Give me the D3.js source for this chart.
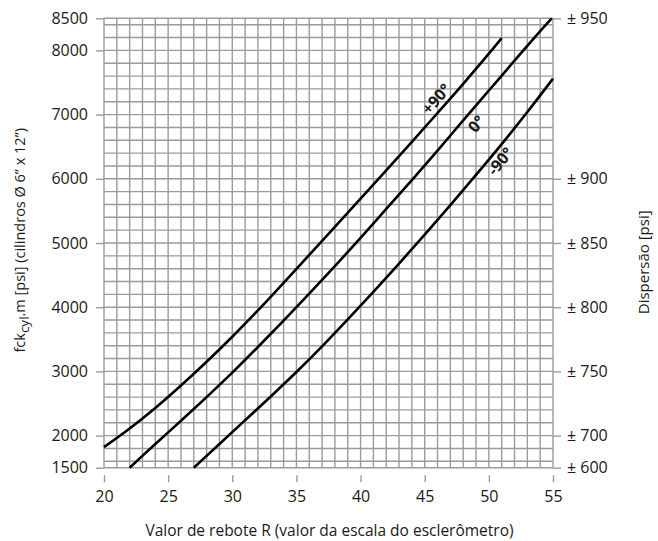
<!DOCTYPE html>
<html>
<head>
<meta charset="utf-8">
<script src="https://cdn.jsdelivr.net/npm/d3@7"></script>
<style>
  body { margin: 0; background: #fff; }
  svg { font-family: "Open Sans", sans-serif; }
</style>
</head>
<body>
<div id="chart"></div>
<script>
// curve data: rebound value R -> fck (psi)
var rPlus90 = [20, 22, 24, 26, 28, 30, 32, 34, 36, 38, 40, 42, 44, 46, 48, 50, 51];
var fckPlus90 = [1820, 2110, 2430, 2780, 3150, 3540, 3950, 4380, 4815, 5250, 5690, 6130, 6575, 7025, 7480, 7950, 8190];

var rZero = [22, 24, 26, 28, 30, 32, 34, 36, 38, 40, 42, 44, 46, 48, 50, 52, 54, 54.9];
var fckZero = [1500, 1870, 2230, 2600, 2980, 3380, 3790, 4210, 4640, 5080, 5530, 5980, 6440, 6910, 7375, 7840, 8300, 8500];

var rMinus90 = [27, 29, 31, 33, 35, 37, 39, 41, 43, 45, 47, 49, 51, 53, 55];
var fckMinus90 = [1500, 1870, 2240, 2610, 2990, 3390, 3810, 4240, 4680, 5130, 5590, 6060, 6540, 7040, 7560];

var seriesNames = ["+90°", "0°", "-90°"];

// axis ticks
var xTicks = [20, 25, 30, 35, 40, 45, 50, 55];
var yTicks = [1500, 2000, 3000, 4000, 5000, 6000, 7000, 8000, 8500];
var dispTicks = [1500, 2000, 3000, 4000, 5000, 6000, 8500];
var dispLabels = ["± 600", "± 700", "± 750", "± 800", "± 850", "± 900", "± 950"];

// set the dimensions and margins of the graph
var margin = {top: 18.3, right: 105, bottom: 73.3, left: 104},
    width = 658 - margin.left - margin.right,
    height = 541 - margin.top - margin.bottom;

var svg = d3.select("#chart")
  .append("svg")
    .attr("width", 658)
    .attr("height", 541)
  .append("g")
    .attr("transform", "translate(" + margin.left + "," + margin.top + ")");

var x = d3.scaleLinear().domain([20, 55]).range([0, width]);
var y = d3.scaleLinear().domain([1500, 8500]).range([height, 0]);

// grid: every 1 R unit, every 200 psi
var gridX = d3.range(20, 56, 1);
var gridY = [1500].concat(d3.range(1600, 8500, 200)).concat([8500]);

var grid = svg.append("g").attr("stroke", "#9b9b9b").attr("stroke-width", 1.4);
grid.selectAll("line.v").data(gridX).enter().append("line")
    .attr("class", "v")
    .attr("x1", d => x(d)).attr("x2", d => x(d))
    .attr("y1", 0).attr("y2", height);
grid.selectAll("line.h").data(gridY).enter().append("line")
    .attr("class", "h")
    .attr("x1", 0).attr("x2", width)
    .attr("y1", d => y(d)).attr("y2", d => y(d));

var tickFont = "16px";

// left axis
var yAxis = svg.append("g")
    .call(d3.axisLeft(y).tickValues(yTicks).tickSize(8).tickPadding(8).tickFormat(d3.format("d")));
yAxis.select(".domain").remove();
yAxis.selectAll("line").attr("stroke", "#9b9b9b").attr("stroke-width", 1.4);
yAxis.selectAll("text").attr("font-size", tickFont).attr("fill", "#1a1a1a").attr("font-family", "Open Sans");

// right axis (dispersion)
var rAxis = svg.append("g")
    .attr("transform", "translate(" + width + ",0)")
    .call(d3.axisRight(y).tickValues(dispTicks).tickSize(8).tickPadding(6)
      .tickFormat(function(d, i) { return dispLabels[i]; }));
rAxis.select(".domain").remove();
rAxis.selectAll("line").attr("stroke", "#9b9b9b").attr("stroke-width", 1.4);
rAxis.selectAll("text").attr("font-size", tickFont).attr("fill", "#1a1a1a").attr("font-family", "Open Sans");

// bottom axis, ticks detached from the grid
var xAxis = svg.append("g")
    .attr("transform", "translate(0," + (height + 7.5) + ")")
    .call(d3.axisBottom(x).tickValues(xTicks).tickSize(7).tickPadding(8));
xAxis.select(".domain").remove();
xAxis.selectAll("line").attr("stroke", "#9b9b9b").attr("stroke-width", 1.4);
xAxis.selectAll("text").attr("font-size", tickFont).attr("fill", "#1a1a1a").attr("font-family", "Open Sans");

// curves
var series = [
  {name: seriesNames[0], r: rPlus90, v: fckPlus90},
  {name: seriesNames[1], r: rZero, v: fckZero},
  {name: seriesNames[2], r: rMinus90, v: fckMinus90}
];

var line = d3.line()
    .x(d => x(d[0]))
    .y(d => y(d[1]))
    .curve(d3.curveCatmullRom.alpha(0.5));

svg.append("g").selectAll("path")
  .data(series)
  .enter().append("path")
    .attr("d", d => line(d.r.map((r, i) => [r, d.v[i]])))
    .attr("fill", "none")
    .attr("stroke", "#000")
    .attr("stroke-width", 2.6);

// curve labels, rotated along the curve; negative offset = above-left
var labelAt = [46.5, 48.3, 50.3];
var labelOff = [-10.5, 12, 9.5];

series.forEach(function(s, i) {
  var r0 = labelAt[i];
  var f = d3.scaleLinear().domain(s.r).range(s.v);
  var px = x(r0), py = y(f(r0));
  var dx = x(r0 + 0.5) - x(r0 - 0.5), dy = y(f(r0 + 0.5)) - y(f(r0 - 0.5));
  var len = Math.sqrt(dx * dx + dy * dy);
  var nx = -dy / len, ny = dx / len; // normal pointing down-right
  var ang = Math.atan2(dy, dx) * 180 / Math.PI;
  var cx = px + nx * labelOff[i], cy = py + ny * labelOff[i];
  svg.append("text")
    .attr("transform", "translate(" + cx + "," + cy + ") rotate(" + ang + ")")
    .attr("text-anchor", "middle")
    .attr("dominant-baseline", "central")
    .attr("font-size", "16px")
    .attr("font-weight", "bold")
    .attr("fill", "#1a1a1a")
    .text(s.name);
});

// axis titles
svg.append("text")
    .attr("x", width / 2 + 1)
    .attr("y", height + 68)
    .attr("text-anchor", "middle")
    .attr("font-size", "15.5px")
    .attr("fill", "#1a1a1a")
    .text("Valor de rebote R (valor da escala do esclerômetro)");

var yl = svg.append("text")
    .attr("transform", "translate(" + (-79) + "," + (222) + ") rotate(-90)")
    .attr("text-anchor", "middle")
    .attr("font-size", "14.5px")
    .attr("fill", "#1a1a1a");
yl.append("tspan").text("fck");
yl.append("tspan").attr("dy", 4).attr("font-size", "13.5px").text("cyl");
yl.append("tspan").attr("dy", -4).text(".m [psi] (cilindros Ø 6” x 12”)");

svg.append("text")
    .attr("transform", "translate(" + (width + 96) + "," + (244) + ") rotate(-90)")
    .attr("text-anchor", "middle")
    .attr("font-size", "15px")
    .attr("fill", "#1a1a1a")
    .text("Dispersão [psi]");
</script>
</body>
</html>
